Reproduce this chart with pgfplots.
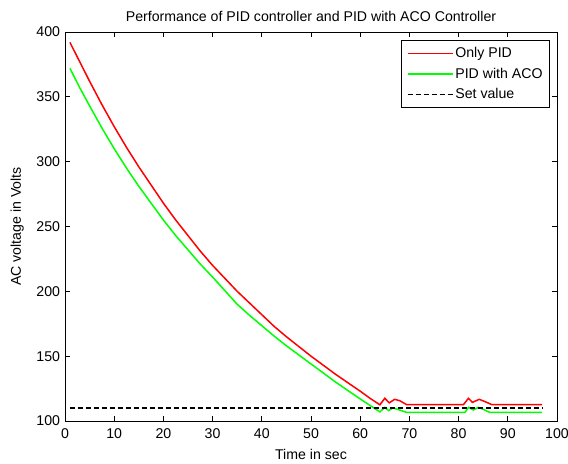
\documentclass[border=0pt]{standalone}
\usepackage{pgfplots}
\pgfplotsset{compat=1.18}
\usepackage{fontspec}
\setmainfont{Liberation Sans}[Scale=1.42]
\begin{document}
\begin{tikzpicture}
\path[use as bounding box] (0,0) rectangle (568bp,464bp);
\begin{axis}[
  at={(65bp,43bp)}, anchor=south west,
  scale only axis, width=492bp, height=389bp,
  xmin=0, xmax=100, ymin=100, ymax=400,
  xtick={0,10,...,100}, ytick={100,150,...,400},
  tick align=inside, xtick pos=both, ytick pos=both,
  major tick length=5bp,
  axis line style={line width=0.8bp},
  every tick/.style={black, line width=0.8bp},
  /pgf/number format/assume math mode=true,
  xticklabel style={yshift=-3bp},
  title={Performance of PID controller and PID with ACO Controller},
  title style={yshift=-1bp},
  xlabel={Time in sec}, ylabel={AC voltage in Volts},
  xlabel style={yshift=-1bp},
  ylabel style={yshift=3bp},
  legend style={at={(rel axis cs:0.9858,0.9794)}, anchor=north east,
    draw=black, line width=0.8bp, inner xsep=5bp, inner ysep=5bp, row sep=4bp},
  legend cell align=left,
  legend image code/.code={\draw[#1] (0bp,0bp) -- (45bp,0bp);},
]
\addplot[draw=red, line width=1.5bp] coordinates {
(1,392) (3,377) (5,362) (7.5,344) (10,327) (12.5,311) (15,296) (17.5,282)
(20,268) (22.5,255) (25,243) (27.5,231) (30,220) (32.5,210) (35,200)
(37.5,191) (40,182) (42.5,173) (45,165) (47.5,157.5) (50,150) (52.5,143)
(55,136) (57.5,129.5) (60,123) (62,117.5) (64,112.5)
(65,117.5) (65.9,114) (67,116.7) (68,115.7) (69.4,112.7) (70,112.7)
(81,112.7) (82,117.5) (82.8,114.4) (84.2,116.7) (85.4,114.9) (86.7,112.7) (97,112.7)
};
\addlegendentry{Only PID}
\addplot[draw=green, line width=1.5bp] coordinates {
(1,372) (3,357) (5,343) (7.5,326) (10,310) (12.5,295) (15,281) (17.5,268)
(20,255) (22.5,243) (25,232) (27.5,221) (30,211) (32.5,200.5) (35,190)
(37.5,181.5) (40,173.5) (42.5,165.5) (45,158) (47.5,151) (50,144) (52.5,137)
(55,130) (57.5,123.5) (60,117) (62,112) (64,107)
(65,110.5) (65.8,108) (66.6,110) (67.6,109) (69.4,106.7) (81.3,106.7)
(82,110.5) (83,108.5) (84,110.5) (85,109) (86.3,106.7) (97,106.7)
};
\addlegendentry{PID with ACO}
\addplot[draw=black, line width=1.5bp, dash pattern=on 5bp off 3bp] coordinates {(1,110) (97,110)};
\addlegendentry{Set value}
\end{axis}
\end{tikzpicture}
\end{document}
